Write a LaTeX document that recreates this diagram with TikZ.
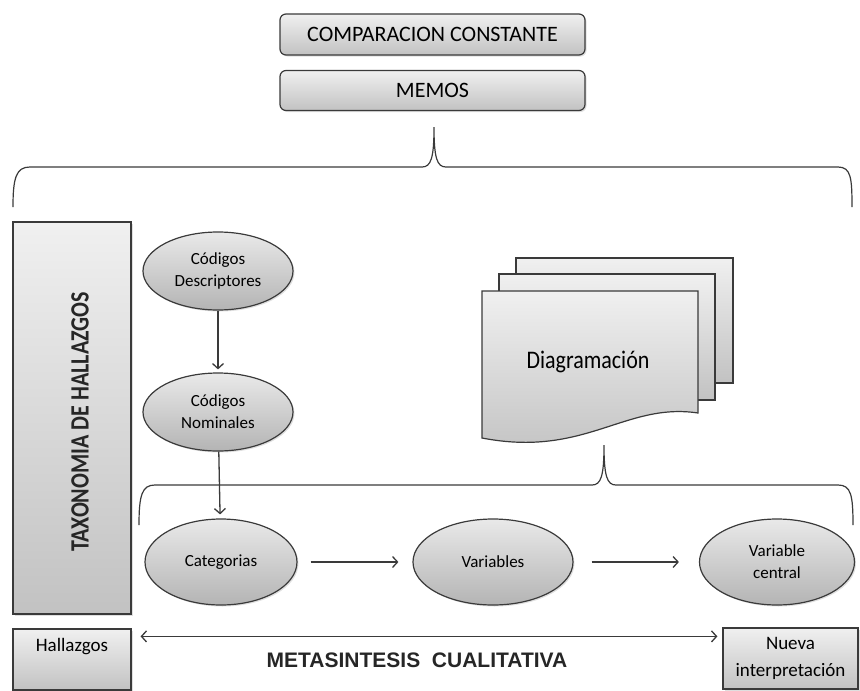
\documentclass[tikz,border=0pt]{standalone}
\usepackage{fontspec}
\setmainfont{Carlito}
\newfontfamily\arialfont{Liberation Sans}
\usepackage{xcolor}
\usepackage{graphicx}
\usetikzlibrary{shapes.geometric,shadows,arrows.meta}

\definecolor{linea}{HTML}{3A3A3A}
\definecolor{claro}{HTML}{F0F0F0}
\definecolor{oscuro}{HTML}{C2C2C2}
\definecolor{medio}{HTML}{B4B4B4}

\tikzset{
  caja/.style={draw=linea, line width=1.2pt, top color=claro, bottom color=oscuro,
    drop shadow={opacity=0.25, shadow xshift=1.5pt, shadow yshift=-1.5pt}},
  ovalo/.style={ellipse, draw=linea, line width=1.2pt, top color=claro!85!oscuro,
    bottom color=medio, align=center, font=\fontsize{17}{22}\selectfont,
    drop shadow={opacity=0.25, shadow xshift=1.5pt, shadow yshift=-1.5pt}},
  hoja/.style={draw=linea, line width=1.2pt, top color=claro, bottom color=oscuro},
  llave/.style={draw=linea, line width=1.2pt},
  flecha/.style={draw=linea, line width=1.3pt, -{Straight Barb[length=5pt,width=11pt]}}
}

\begin{document}
\begin{tikzpicture}[x=1pt,y=-1pt]
\useasboundingbox (0,0) rectangle (860,691);

% cajas de arriba
\node[caja, rounded corners=6pt, minimum width=305pt, minimum height=41pt,
  font=\fontsize{22}{26}\selectfont] (compar) at (432.5,34.5) {COMPARACION CONSTANTE};
\node[caja, rounded corners=6pt, minimum width=305pt, minimum height=40pt,
  font=\fontsize{22}{26}\selectfont] (memos) at (432.5,90.5) {MEMOS};

% llave grande
\draw[llave] (13,207) .. controls (13,178) and (16,167) .. (30,167) -- (422,167)
  .. controls (431,167) and (434,158) .. (434,127)
  .. controls (434,158) and (437,167) .. (446,167) -- (838,167)
  .. controls (851,167) and (852,178) .. (852,207);

% taxonomia
\node[caja, minimum width=118pt, minimum height=392pt] (taxo) at (72,418) {};
\node[rotate=90, font=\fontsize{22}{26}\selectfont\bfseries, text=black!85] (taxotxt)
  at (80,422) {\scalebox{1}[1.2]{TAXONOMIA DE HALLAZGOS}};

% codigos
\node[ovalo, minimum width=150pt, minimum height=78pt] (desc) at (218,271)
  {Códigos\\Descriptores};
\node[ovalo, minimum width=150pt, minimum height=78pt] (nomin) at (218,412)
  {Códigos\\Nominales};

% diagramacion (tres hojas)
\draw[hoja] (516,258) rectangle (733,383);
\draw[hoja] (499,274) rectangle (715,400);
\draw[hoja] (482,291) -- (698,291) -- (698,413)
  .. controls (625,402) and (585,458) .. (482,438) -- cycle;
\node[font=\fontsize{22}{26}\selectfont] (diagr) at (588,362)
  {\scalebox{1}[1.15]{Diagramación}};

% llave de abajo
\draw[llave] (139,525) .. controls (139,495) and (142,485) .. (155,485) -- (592,485)
  .. controls (601,485) and (604,476) .. (604,445)
  .. controls (604,476) and (607,485) .. (616,485) -- (838,485)
  .. controls (851,485) and (853,495) .. (853,525);

% fila de abajo
\node[ovalo, minimum width=152pt, minimum height=86pt] (categ) at (221,562) {Categorias};
\node[ovalo, minimum width=160pt, minimum height=86pt] (variab) at (493,562) {Variables};
\node[ovalo, minimum width=155pt, minimum height=86pt] (varcen) at (777,562)
  {Variable\\central};

\draw[flecha, shorten >=3pt] (desc) -- (nomin);
\draw[flecha, shorten >=4pt] (nomin) -- (categ);
\draw[flecha, shorten <=13pt, shorten >=14pt] (categ) -- (variab);
\draw[flecha, shorten <=18pt, shorten >=20pt] (variab) -- (varcen);

% hallazgos y nueva interpretacion
\node[caja, minimum width=118pt, minimum height=61pt] (hallaz) at (72,659.5) {};
\node[font=\fontsize{19}{24}\selectfont] (hallaztxt) at (72,647) {Hallazgos};
\node[caja, minimum width=135pt, minimum height=61pt, align=center,
  font=\fontsize{19}{27}\selectfont] (nueva) at (790.5,658.5) {Nueva\\interpretación};

\draw[flecha, {Straight Barb[length=5pt,width=11pt]}-{Straight Barb[length=5pt,width=11pt]}]
  ([xshift=9pt,yshift=-8pt]hallaz.north east)
  -- ([xshift=-5pt,yshift=-9pt]nueva.north west);

\node[font=\arialfont\fontsize{21}{25}\selectfont\bfseries, text=black!85] (metas)
  at (417,660) {METASINTESIS\ \ CUALITATIVA};
\end{tikzpicture}
\end{document}
